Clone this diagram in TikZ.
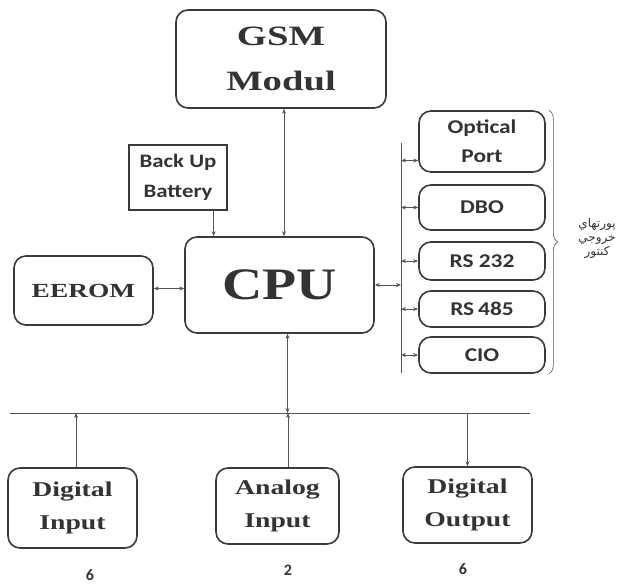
\documentclass[tikz,border=0pt]{standalone}
\usepackage{fontspec}
\usepackage{graphicx}
\setmainfont{Liberation Serif}
\newfontfamily\sansb{Carlito}
\newfontfamily\farsi[Script=Arabic]{DejaVu Sans}
\TeXXeTstate=1
\usetikzlibrary{arrows.meta,decorations.pathreplacing}
\definecolor{boxline}{HTML}{3A3A3A}
\definecolor{wire}{HTML}{555555}
\definecolor{ink}{HTML}{333333}
\newcommand{\wide}[2][1.32]{\scalebox{#1}[1]{#2}}
\tikzset{
  rbox/.style={draw=boxline, line width=1.6pt, rounded corners=12pt, inner sep=0pt, align=center, text=ink},
  sqbox/.style={draw=boxline, line width=1.4pt, inner sep=0pt, align=center, text=ink},
  link/.style={draw=wire, line width=0.7pt},
  tip/.style={-{Stealth[length=5pt,width=4pt]}},
  twotips/.style={{Stealth[length=5pt,width=4pt]}-{Stealth[length=5pt,width=4pt]}}
}
\begin{document}
\begin{tikzpicture}[x=1pt,y=-1pt]
    \useasboundingbox (0,0) rectangle (617,583);

    % Blocs principaux
    \node[rbox, minimum width=210pt, minimum height=98pt, font=\bfseries\fontsize{28}{45}\selectfont] (gsm) at (281,59) {\wide[1.38]{GSM}\\\wide[1.38]{Modul}};
    \node[sqbox, minimum width=98pt, minimum height=65pt, font=\sansb\bfseries\fontsize{19}{30}\selectfont] (batt) at (178,177.5) {\wide[1.2]{Back Up}\\\wide[1.2]{Battery}};
    \node[rbox, minimum width=189pt, minimum height=96pt, font=\bfseries\fontsize{45}{50}\selectfont] (cpu) at (279.5,285) {\wide[1.24]{CPU}};
    \node[rbox, minimum width=139pt, minimum height=69pt, font=\bfseries\fontsize{20}{24}\selectfont] (eerom) at (83.5,290.5) {\wide[1.37]{EEROM}};

    % Ports de sortie
    \node[rbox, minimum width=126pt, minimum height=61pt, font=\sansb\bfseries\fontsize{19.5}{29}\selectfont] (optical) at (482,141.5) {\wide[1.2]{Optical}\\\wide[1.2]{Port}};
    \node[rbox, minimum width=126pt, minimum height=45pt, font=\sansb\bfseries\fontsize{19.5}{24}\selectfont] (dbo) at (482,207.5) {\wide[1.2]{DBO}};
    \node[rbox, minimum width=126pt, minimum height=38pt, font=\sansb\bfseries\fontsize{19.5}{24}\selectfont] (rs232) at (482,261) {\raisebox{-5pt}{\wide[1.2]{RS 232}}};
    \node[rbox, minimum width=126pt, minimum height=36pt, font=\sansb\bfseries\fontsize{19.5}{24}\selectfont] (rs485) at (482,309) {\raisebox{-5pt}{\wide[1.2]{RS\,485}}};
    \node[rbox, minimum width=126pt, minimum height=36pt, font=\sansb\bfseries\fontsize{19.5}{24}\selectfont] (cio) at (482,355) {\raisebox{-3pt}{\wide[1.2]{CIO}}};

    % Entrees / sorties
    \node[rbox, minimum width=129pt, minimum height=80pt, font=\bfseries\fontsize{21}{33}\selectfont] (din) at (72.5,508) {\wide{Digital}\\\wide{Input}};
    \node[rbox, minimum width=123pt, minimum height=76pt, font=\bfseries\fontsize{21}{33}\selectfont] (ain) at (277.5,506) {\wide{Analog}\\\wide{Input}};
    \node[rbox, minimum width=129pt, minimum height=76pt, font=\bfseries\fontsize{21}{33}\selectfont] (dout) at (467.5,505) {\wide{Digital}\\\wide{Output}};

    % Nombres
    \node[text=ink, inner sep=1pt, font=\sansb\bfseries\fontsize{16}{18}\selectfont] (n1) at (90,575) {6};
    \node[text=ink, inner sep=1pt, font=\sansb\bfseries\fontsize{16}{18}\selectfont] (n2) at (288,570) {2};
    \node[text=ink, inner sep=1pt, font=\sansb\bfseries\fontsize{16}{18}\selectfont] (n3) at (463,569) {6};

    % Bus
    \coordinate (vtop) at (401,143);
    \coordinate (vbot) at (401,373);
    \coordinate (hleft) at (10,413);
    \coordinate (hright) at (530,413);
    \draw[link] (vtop) -- (vbot);
    \draw[link] (hleft) -- (hright);

    % Liaisons
    \draw[link, tip] ([xshift=-14pt]batt.south east) -- ([xshift=-14pt]batt.south east |- cpu.north);
    \draw[link, twotips] ([xshift=3pt]gsm.south) -- ([xshift=3pt]gsm.south |- cpu.north);
    \draw[link, twotips] ([yshift=2pt]eerom.east) -- ([yshift=2pt]eerom.east -| cpu.west);
    \draw[link, twotips] (cpu.east) -- (cpu.east -| vtop);
    \draw[link, twotips] ([xshift=8pt]cpu.south) -- ([xshift=8pt]cpu.south |- hleft);
    \draw[link, twotips] ([yshift=-19pt]optical.west -| vtop) -- ([yshift=-19pt]optical.west);
    \foreach \p in {dbo,rs232,rs485,cio}
        \draw[link, twotips] (\p.west -| vtop) -- (\p.west);
    \draw[link, tip] ([xshift=3.5pt]din.north) -- ([xshift=3.5pt]din.north |- hleft);
    \draw[link, tip] ([xshift=10.5pt]ain.north) -- ([xshift=10.5pt]ain.north |- hleft);
    \draw[link, tip] (dout.north |- hleft) -- (dout.north);

    % Accolade des ports
    \coordinate (btop) at ([xshift=3pt]optical.north east);
    \coordinate (bbot) at ([xshift=3pt]cio.south east);
    \draw[draw=wire, line width=0.6pt, decorate, decoration={brace, amplitude=9pt}] (btop) -- (bbot);
    \node[text=ink, align=center, font=\farsi\fontsize{12}{14}\selectfont] (ports) at (597,238) {\beginR پورتهاي\endR\\\beginR خروجي\endR\\\beginR كنتور\endR};
\end{tikzpicture}
\end{document}
